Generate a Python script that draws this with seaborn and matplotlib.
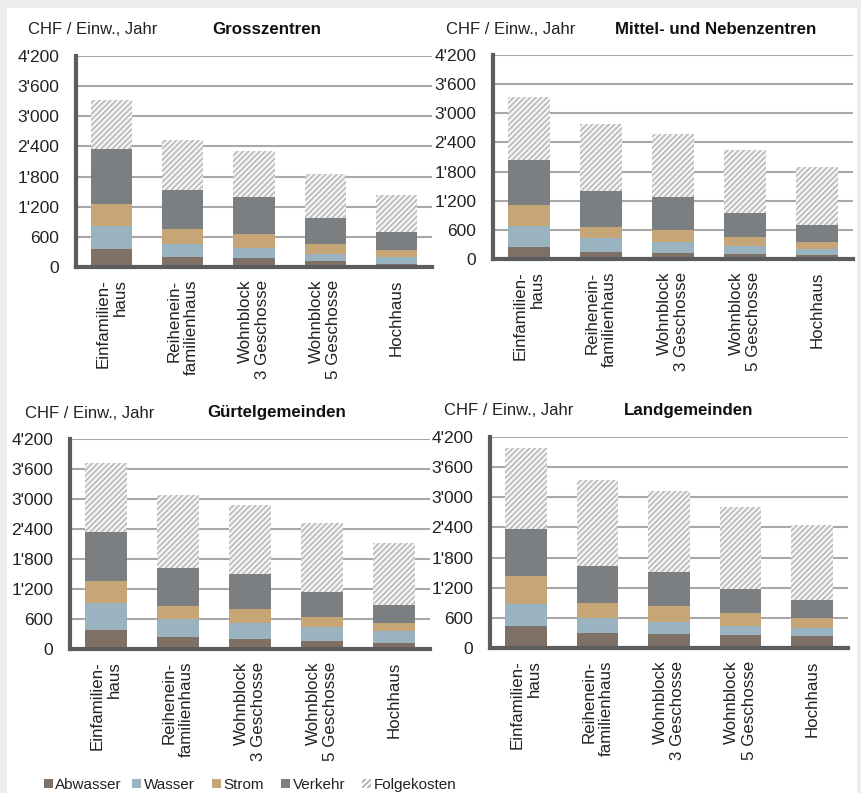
import numpy as np
import pandas as pd
import seaborn as sns
import matplotlib
matplotlib.use("Agg")
import matplotlib.pyplot as plt
from matplotlib.patches import Patch, Rectangle
from matplotlib import font_manager
from matplotlib.ticker import FuncFormatter

# ---------------- data ----------------
categories = ["Einfamilien-\nhaus", "Reihenein-\nfamilienhaus", "Wohnblock\n3 Geschosse",
              "Wohnblock\n5 Geschosse", "Hochhaus"]
components = ["Abwasser", "Wasser", "Strom", "Verkehr", "Folgekosten"]
panel_titles = ["Grosszentren", "Mittel- und Nebenzentren", "Gürtelgemeinden", "Landgemeinden"]
unit_label = "CHF / Einw., Jahr"
yticks = [0, 600, 1200, 1800, 2400, 3000, 3600, 4200]

gross_abwasser = [350, 200, 180, 115, 65]
gross_wasser = [465, 265, 205, 150, 135]
gross_strom = [440, 285, 280, 200, 135]
gross_verkehr = [1100, 790, 730, 520, 360]
gross_folge = [970, 995, 910, 865, 740]

mittel_abwasser = [250, 150, 130, 100, 80]
mittel_wasser = [425, 275, 210, 170, 135]
mittel_strom = [430, 240, 250, 175, 130]
mittel_verkehr = [935, 730, 680, 500, 355]
mittel_folge = [1295, 1385, 1295, 1290, 1195]

guertel_abwasser = [385, 235, 205, 165, 125]
guertel_wasser = [530, 365, 325, 275, 240]
guertel_strom = [445, 270, 265, 195, 165]
guertel_verkehr = [985, 760, 705, 510, 350]
guertel_folge = [1375, 1450, 1375, 1370, 1245]

land_abwasser = [445, 305, 285, 255, 235]
land_wasser = [430, 285, 235, 190, 155]
land_strom = [550, 310, 320, 250, 205]
land_verkehr = [950, 730, 680, 485, 360]
land_folge = [1615, 1720, 1610, 1635, 1490]

panels = [
    [gross_abwasser, gross_wasser, gross_strom, gross_verkehr, gross_folge],
    [mittel_abwasser, mittel_wasser, mittel_strom, mittel_verkehr, mittel_folge],
    [guertel_abwasser, guertel_wasser, guertel_strom, guertel_verkehr, guertel_folge],
    [land_abwasser, land_wasser, land_strom, land_verkehr, land_folge],
]

colors = ["#7f7066", "#9ab3c1", "#c6a677", "#7c7f81", "#ffffff"]
hatch_color = "#bcbcbc"

# ---------------- style ----------------
sns.set_theme(style="white")
names = {f.name for f in font_manager.fontManager.ttflist}
base = "Liberation Sans" if "Liberation Sans" in names else "DejaVu Sans"
plt.rcParams["font.family"] = [base, "DejaVu Sans"]
plt.rcParams["hatch.linewidth"] = 1.3
plt.rcParams["hatch.color"] = hatch_color

W, H = 862, 793
fig = plt.figure(figsize=(W / 100, H / 100), dpi=100, facecolor="#ececec")
fig.patches.append(Rectangle((7 / W, 0), (857 - 7) / W, 1 - 8 / H, transform=fig.transFigure,
                             facecolor="white", edgecolor="none", zorder=-10))

# axes pixel boxes: (left, right, top, bottom)
boxes = [(76, 432, 56, 267), (493, 853, 55, 259), (70, 430, 439, 649), (490, 848, 437, 648)]
# header positions: (unit x, title x, y)
headers = [(28, 212, 30), (446, 615, 29), (25, 207, 413), (444, 624, 411)]

fmt = FuncFormatter(lambda v, p: f"{int(v):,}".replace(",", "'"))

for pi, (box, comps) in enumerate(zip(boxes, panels)):
    l, r, t, b = box
    ax = fig.add_axes([l / W, 1 - b / H, (r - l) / W, (b - t) / H])
    ax.set_facecolor("none")
    arr = np.array(comps, dtype=float)
    cum = np.cumsum(arr, axis=0)
    # draw from top layer down so lower layers overdraw
    for k in range(len(components) - 1, -1, -1):
        df = pd.DataFrame({"Typ": categories, "Wert": cum[k]})
        n_before = len(ax.patches)
        sns.barplot(data=df, x="Typ", y="Wert", color=colors[k], saturation=1,
                    width=0.58, linewidth=0, ax=ax, zorder=3)
        if components[k] == "Folgekosten":
            for p in ax.patches[n_before:]:
                p.set_facecolor("#f7f7f7")
                p.set_edgecolor(hatch_color)
                p.set_linewidth(0)
                p.set_hatch("//////")
    ax.set_ylim(0, 4200)
    ax.set_xlim(-0.5, 4.5)
    ax.set_yticks(yticks)
    ax.yaxis.set_major_formatter(fmt)
    ax.set_xlabel("")
    ax.set_ylabel("")
    ax.grid(axis="y", color="#a8a8a8", linewidth=1.5, zorder=1)
    ax.set_axisbelow(True)
    for s in ["top", "right"]:
        ax.spines[s].set_visible(False)
    for s in ["left", "bottom"]:
        ax.spines[s].set_color("#5c5c5c")
        ax.spines[s].set_linewidth(3)
        ax.spines[s].set_zorder(5)
    ax.tick_params(axis="y", length=0, pad=12, labelsize=12.5, labelcolor="#222222")
    ax.tick_params(axis="x", length=0, pad=9, labelsize=12.2, labelcolor="#222222")
    ax.set_xticks(range(len(categories)))
    ax.set_xticklabels(categories, rotation=90, va="top", ha="center", multialignment="right")

    ux, tx, hy = headers[pi]
    fig.text(ux / W, 1 - hy / H, unit_label, fontsize=12, color="#222222", va="center", ha="left")
    fig.text(tx / W, 1 - hy / H, panel_titles[pi], fontsize=12.2, fontweight="bold",
             color="#111111", va="center", ha="left")

# legend: one entry per position
legend_x = [44, 132, 212, 281, 362]
for k, c in enumerate(components):
    if c == "Folgekosten":
        h = Patch(facecolor="white", edgecolor="#b0b0b0", linewidth=0, hatch="//////", label=c)
    else:
        h = Patch(facecolor=colors[k], edgecolor="none", label=c)
    fig.legend(handles=[h], loc="center left", bbox_to_anchor=(legend_x[k] / W, 1 - 785 / H),
               frameon=False, handlelength=0.6, handleheight=0.6, handletextpad=0.15,
               borderaxespad=0, borderpad=0, prop={"size": 11}, labelcolor="#222222")

fig.savefig("out.png", dpi=100, facecolor=fig.get_facecolor())
